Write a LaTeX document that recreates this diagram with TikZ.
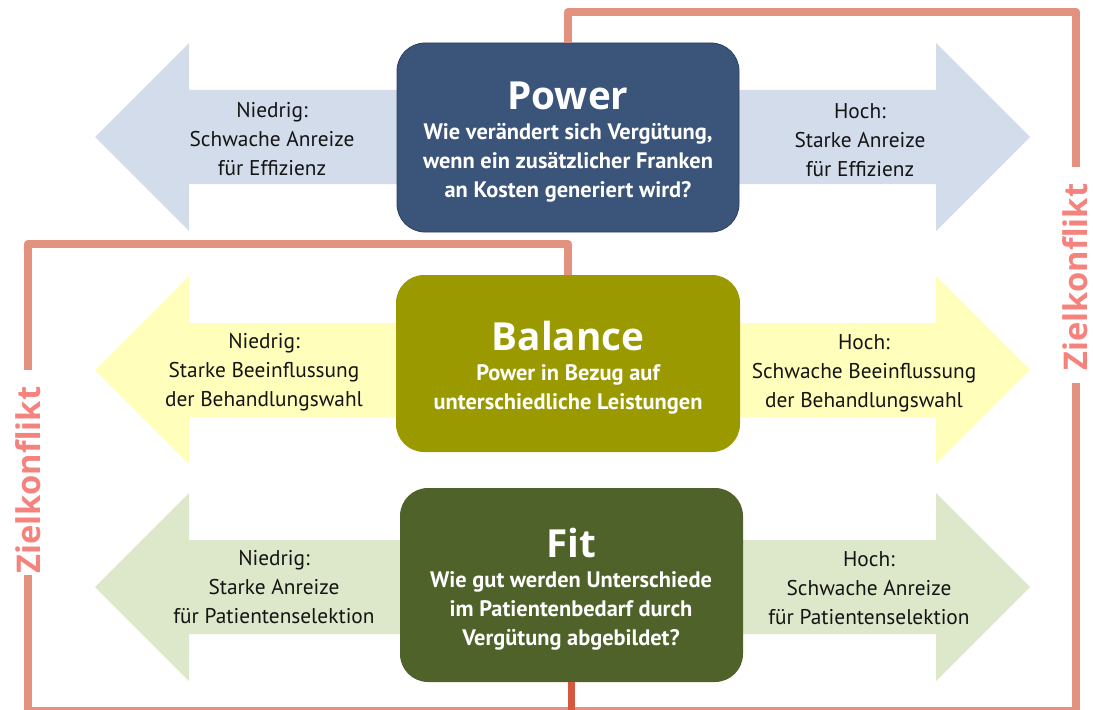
\documentclass[tikz,border=0pt]{standalone}
\usepackage{fontspec}
\setmainfont{PT Sans}
\newfontfamily\titlefont{Open Sans}
\definecolor{powerc}{RGB}{59,84,122}
\definecolor{powerb}{RGB}{44,64,96}
\definecolor{balancec}{RGB}{155,153,0}
\definecolor{fitc}{RGB}{79,98,42}
\definecolor{arrblue}{RGB}{211,220,234}
\definecolor{arryel}{RGB}{255,255,187}
\definecolor{arrgreen}{RGB}{221,232,202}
\definecolor{conflictc}{RGB}{228,146,128}
\definecolor{conflicttext}{RGB}{245,130,125}
\definecolor{stubc}{RGB}{214,88,64}
\definecolor{labelc}{RGB}{20,20,20}
\tikzset{
  boxnode/.style={rounded corners=28*0.75pt, inner sep=0pt},
  titletext/.style={font=\titlefont\bfseries\fontsize{29}{30}\selectfont, text=white, anchor=base, inner sep=0pt},
  subtext/.style={font=\bfseries\fontsize{16.8}{21.75}\selectfont, text=white, align=center, inner sep=0pt},
  lbltext/.style={font=\fontsize{16}{21.75}\selectfont, text=labelc, align=center, inner sep=0pt},
  conflict/.style={draw=conflictc, line width=6pt, line join=round},
  conflictlbl/.style={font=\titlefont\bfseries\fontsize{24.5}{26}\selectfont, text=conflicttext, rotate=90, inner sep=0pt}
}
\begin{document}
\begin{tikzpicture}[x=0.75pt,y=-0.75pt]
\useasboundingbox (0,0) rectangle (1093,710);
% double arrows
\foreach \c/\col in {137/arrblue, 370/arryel, 587/arrgreen}{
  \fill[\col] (95,\c) -- (189,\c-94) -- (189,\c-47) -- (936,\c-47) -- (936,\c-94)
    -- (1030,\c) -- (936,\c+94) -- (936,\c+47) -- (189,\c+47) -- (189,\c+94) -- cycle;
}
% conflict line waypoints
\coordinate (ptop) at (568,12);
\coordinate (rtop) at (1076,12);
\coordinate (rgap1) at (1076,167);
\coordinate (rgap2) at (1076,383);
\coordinate (rbot) at (1076,711);
\coordinate (lbot) at (28,711);
\coordinate (lgap2) at (28,575);
\coordinate (lgap1) at (28,370);
\coordinate (ltop) at (28,244);
% boxes
\node[boxnode, fill=powerc, draw=powerb, line width=0.6pt, minimum width=342*0.75pt, minimum height=189*0.75pt] (power) at (568,137.5) {};
\node[boxnode, fill=balancec, minimum width=344*0.75pt, minimum height=177*0.75pt] (balance) at (568,363.5) {};
\node[boxnode, fill=fitc, minimum width=343*0.75pt, minimum height=194*0.75pt] (fit) at (571.5,585) {};
\draw[conflict] (power.north) -- (ptop) -- (rtop) -- (rgap1);
\draw[conflict] (rgap2) -- (rbot) -- (lbot) -- (lgap2);
\draw[conflict] (balance.north) |- (ltop) -- (lgap1);
\draw[draw=stubc, line width=5.4pt] (fit.south) -- (fit.south |- lbot);
% box texts
\node[titletext] (ptitle) at (568,110) {Power};
\node[subtext] (psub) at (568,163) {Wie verändert sich Vergütung,\\wenn ein zusätzlicher Franken\\an Kosten generiert wird?};
\node[titletext] (btitle) at (568,350) {Balance};
\node[subtext] (bsub) at (568,389) {Power in Bezug auf\\unterschiedliche Leistungen};
\node[titletext] (ftitle) at (571,557) {Fit};
\node[subtext] (fsub) at (571,611) {Wie gut werden Unterschiede\\im Patientenbedarf durch\\Vergütung abgebildet?};
% arrow labels
\node[lbltext] (l1) at (272,139) {Niedrig:\\Schwache Anreize\\für Effizienz};
\node[lbltext] (r1) at (860,140) {Hoch:\\Starke Anreize\\für Effizienz};
\node[lbltext] (l2) at (264,372) {Niedrig:\\Starke Beeinflussung\\der Behandlungswahl};
\node[lbltext] (r2) at (864,373) {Hoch:\\Schwache Beeinflussung\\der Behandlungswahl};
\node[lbltext] (l3) at (274,587) {Niedrig:\\Starke Anreize\\für Patientenselektion};
\node[lbltext] (r3) at (869,588) {Hoch:\\Schwache Anreize\\für Patientenselektion};
% Zielkonflikt labels
\node[conflictlbl] (zr) at (1075,277) {Zielkonflikt};
\node[conflictlbl] (zl) at (28,480) {Zielkonflikt};
\end{tikzpicture}
\end{document}
